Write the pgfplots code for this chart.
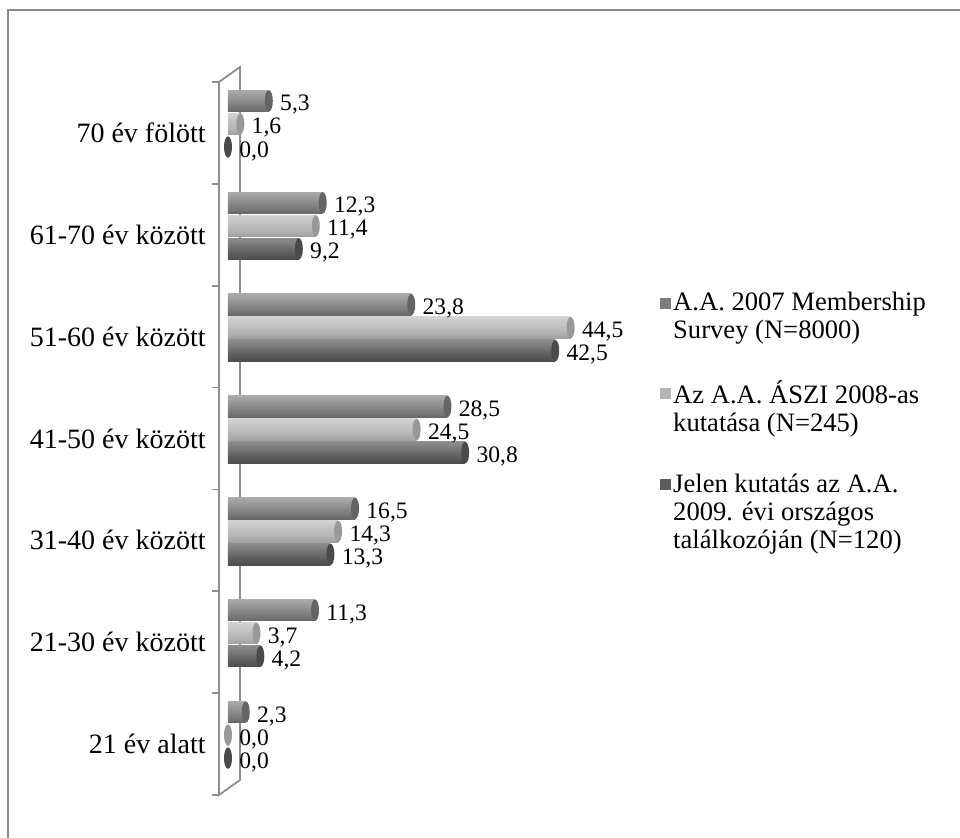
\documentclass[border=0pt]{standalone}
\usepackage{fontspec}
\setmainfont{Liberation Serif}
\usepackage{pgfplots}
\usepackage{pgfplotstable}
\pgfplotsset{compat=1.18}

% series colours
\definecolor{sA}{HTML}{7D7D7D}
\definecolor{sB}{HTML}{B4B4B4}
\definecolor{sC}{HTML}{5C5C5C}
\definecolor{wallgray}{HTML}{8E8E8E}
\definecolor{framegray}{HTML}{8A8A8A}

% cylinder shading: dark bottom, highlight in the upper part
\pgfdeclareverticalshading{cylA}{100bp}{color(0bp)=(sA!55!black); color(40bp)=(sA); color(75bp)=(sA!65!white); color(100bp)=(sA!90!black)}
\pgfdeclareverticalshading{cylB}{100bp}{color(0bp)=(sB!70!black); color(40bp)=(sB); color(75bp)=(sB!60!white); color(100bp)=(sB!90!black)}
\pgfdeclareverticalshading{cylC}{100bp}{color(0bp)=(sC!55!black); color(40bp)=(sC); color(75bp)=(sC!70!white); color(100bp)=(sC!90!black)}

% elliptic end cap of a cylinder
\pgfdeclareplotmark{cap}{%
  \pgfpathellipse{\pgfpointorigin}{\pgfqpoint{2pt}{0pt}}{\pgfqpoint{0pt}{\pgfplotmarksize}}%
  \pgfusepathqfill}

% y = category index + offset of the series inside the group
\pgfplotstableread{
y v
0.314 2.3
1.314 11.3
2.314 16.5
3.314 28.5
4.314 23.8
5.314 12.3
6.314 5.3
}\seriesA
\pgfplotstableread{
y v
0.088 0.0
1.088 3.7
2.088 14.3
3.088 24.5
4.088 44.5
5.088 11.4
6.088 1.6
}\seriesB
\pgfplotstableread{
y v
-0.138 0.0
0.862 4.2
1.862 13.3
2.862 30.8
3.862 42.5
4.862 9.2
5.862 0.0
}\seriesC

\pgfplotsset{
  % one bar (row #2 of the table) so that each cylinder gets its own shading
  cylbar/.style 2 args={xbar, bar width=0.21, bar shift=0pt, draw=none, shade, shading=#1,
    restrict expr to domain={\coordindex}{#2:#2}, forget plot},
  cylcap/.style={only marks, mark=cap, mark size=5.35pt, color=#1, mark options={fill=#1},
    point meta=x, forget plot,
    nodes near coords={\pgfmathprintnumber[fixed,fixed zerofill,precision=1,use comma,assume math mode=true]{\pgfplotspointmeta}},
    nodes near coords style={anchor=west, inner sep=0pt, xshift=5.5pt, yshift=-2pt, text=black,
      font=\fontsize{11.8}{12}\selectfont}},
}

\begin{document}
\begin{tikzpicture}[x=1pt,y=1pt]
\useasboundingbox (0,0) rectangle (480,419);
\draw[framegray, line width=1pt] (4,0) -- (4,413.75) -- (480,413.75);
\begin{axis}[
  at={(114pt,21.5pt)}, anchor=south west,
  scale only axis, width=192.5pt, height=356.5pt,
  xmin=0, xmax=50, ymin=-0.5, ymax=6.5,
  clip=false,
  axis line style={draw=none},
  xtick=\empty,
  ytick={0,...,6},
  yticklabels={21 év alatt, 21-30 év között, 31-40 év között, 41-50 év között,
               51-60 év között, 61-70 év között, 70 év fölött},
  major tick length=0pt,
  yticklabel style={anchor=east, inner sep=0pt, xshift=-11pt, font=\fontsize{14}{16}\selectfont},
  legend style={at={(1.1221,0.7083)}, anchor=north west, draw=none, fill=none,
    inner sep=0pt, row sep=17.5pt, font=\fontsize{13.3}{14}\selectfont,
    cells={align=left}, nodes={inner sep=1pt}},
  legend cell align=left,
]
% the narrow back wall with its category ticks
\draw[wallgray, line width=0.9pt] (axis cs:-1.17,-0.5) -- (axis cs:-1.17,6.5)
  -- (axis cs:1.56,6.647) -- (axis cs:1.56,-0.353) -- cycle;
\pgfplotsinvokeforeach{-0.5,0.5,1.5,2.5,3.5,4.5,5.5,6.5}{
  \draw[wallgray, line width=0.9pt] (axis cs:-1.17,#1) -- ++(-3.5pt,0pt);
}

% cylinder bodies (rows with a value of 0,0 only show their end cap)
\pgfplotsinvokeforeach{0,...,6}{\addplot[cylbar={cylA}{#1}] table[x=v,y=y]{\seriesA};}
\pgfplotsinvokeforeach{1,...,6}{\addplot[cylbar={cylB}{#1}] table[x=v,y=y]{\seriesB};}
\pgfplotsinvokeforeach{1,...,5}{\addplot[cylbar={cylC}{#1}] table[x=v,y=y]{\seriesC};}

% end caps with the value labels
\addplot[cylcap=sA!80!black] table[x=v,y=y]{\seriesA};
\addplot[cylcap=sB!85!black] table[x=v,y=y]{\seriesB};
\addplot[cylcap=sC!80!black] table[x=v,y=y]{\seriesC};

\addlegendimage{legend image code/.code={\fill[sA] (-2pt,4.5pt) rectangle (3pt,9.5pt);}}
\addlegendentry{A.A. 2007 Membership\\Survey (N=8000)}
\addlegendimage{legend image code/.code={\fill[sB] (-2pt,4.5pt) rectangle (3pt,9.5pt);}}
\addlegendentry{Az A.A. ÁSZI 2008-as\\kutatása (N=245)}
\addlegendimage{legend image code/.code={\fill[sC] (-2pt,11.5pt) rectangle (3pt,16.5pt);}}
\addlegendentry{Jelen kutatás az A.A.\\2009. évi országos\\találkozóján (N=120)}
\end{axis}
\end{tikzpicture}
\end{document}
